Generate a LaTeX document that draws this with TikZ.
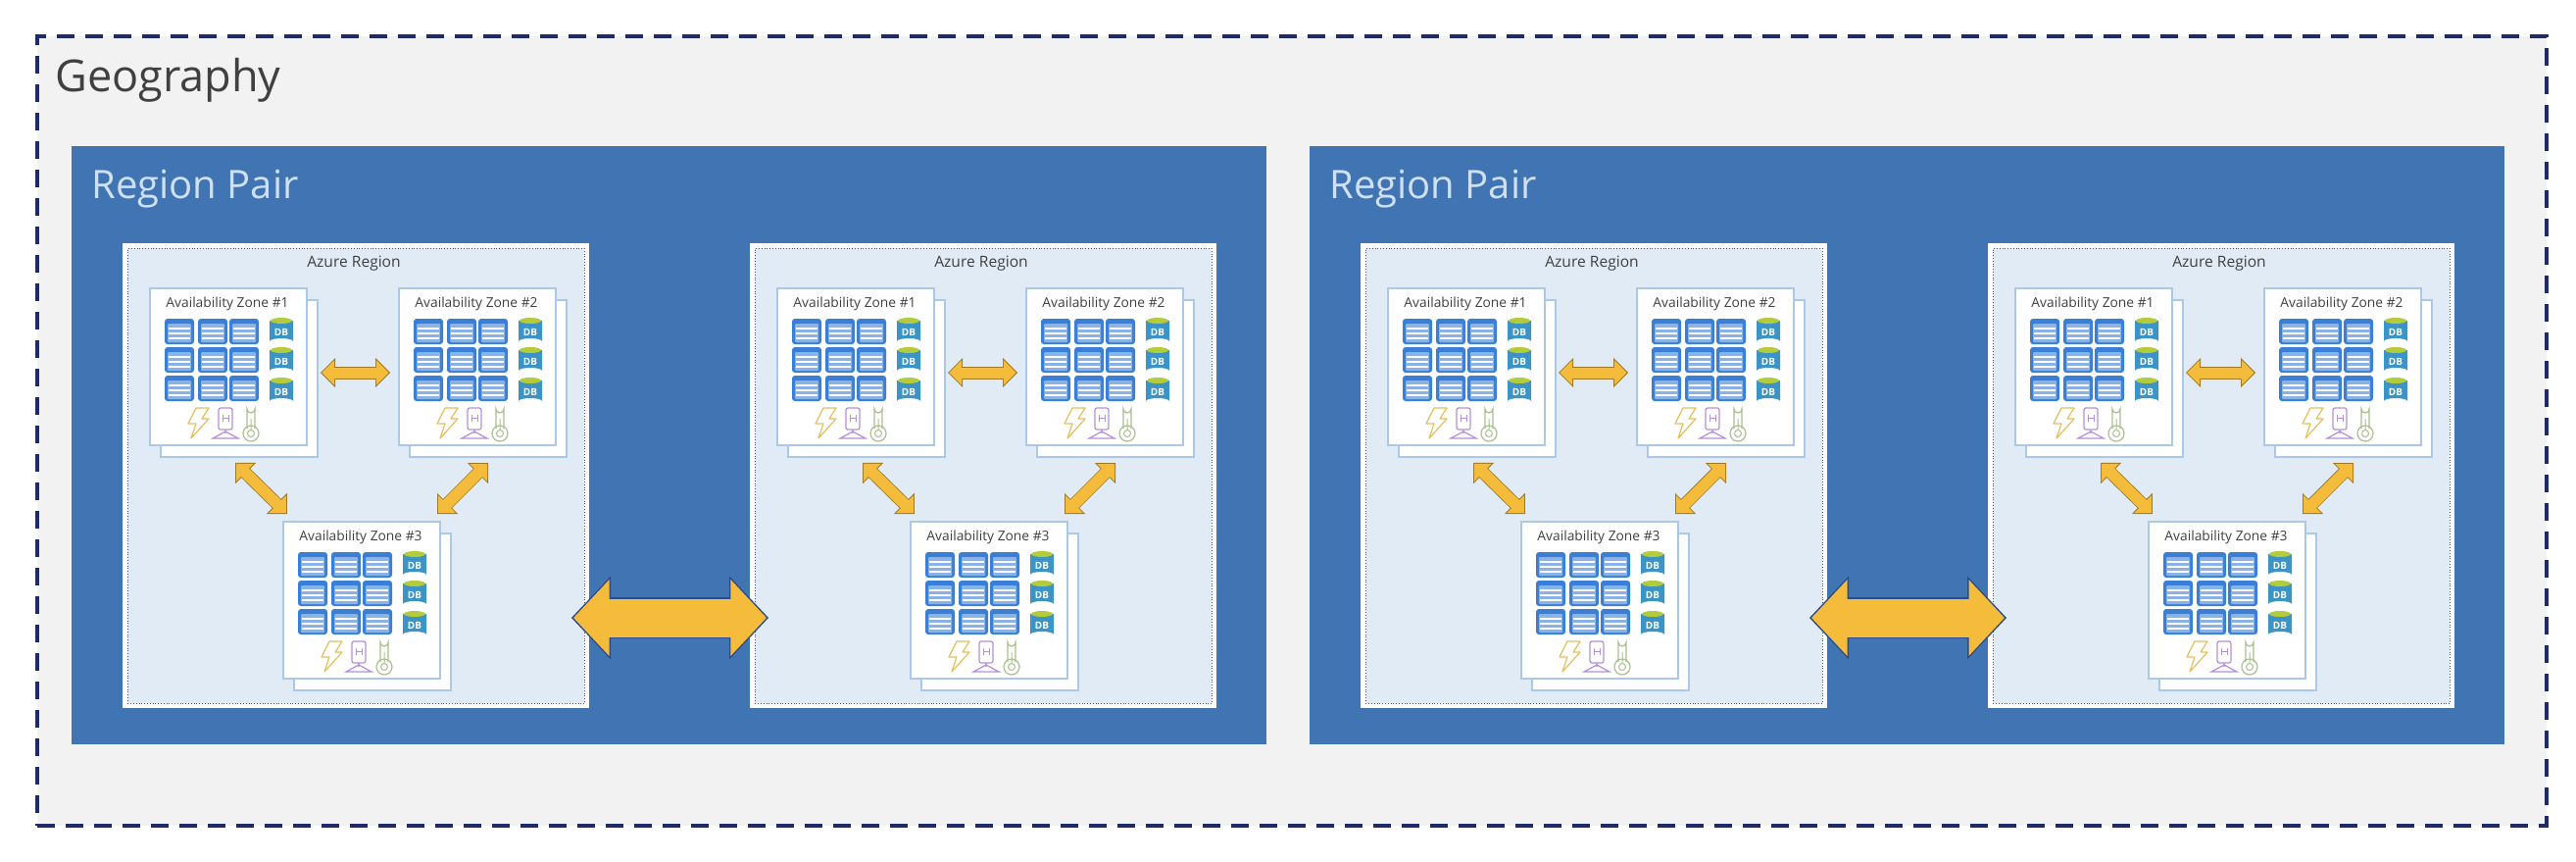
\documentclass[tikz,border=0pt]{standalone}
\usepackage{fontspec}
\setmainfont{Open Sans}
\usetikzlibrary{arrows.meta}

\definecolor{geofill}{HTML}{F2F2F2}
\definecolor{geodash}{HTML}{1F2A68}
\definecolor{pairblue}{HTML}{4174B2}
\definecolor{pairtext}{HTML}{CFE0F3}
\definecolor{regionfill}{HTML}{E1EBF6}
\definecolor{zoneline}{HTML}{A9C8EA}
\definecolor{srvblue}{HTML}{3A7FD6}
\definecolor{dbblue}{HTML}{3C93C6}
\definecolor{dbtop}{HTML}{B4CC3C}
\definecolor{arrowfill}{HTML}{F4BC3A}
\definecolor{boltline}{HTML}{E6BE5E}
\definecolor{mastline}{HTML}{B48FD8}
\definecolor{thermoline}{HTML}{A9C08F}

\tikzset{
  geobox/.style={draw=geodash, fill=geofill, line width=2pt, dash pattern=on 9pt off 5.5pt, inner sep=0pt, minimum width=1280pt, minimum height=402.5pt, anchor=north west},
  pairbox/.style={fill=pairblue, inner sep=0pt, minimum width=609.5pt, minimum height=305pt, anchor=north west},
  regionbox/.style={fill=white, inner sep=0pt, minimum width=238pt, minimum height=237pt, anchor=north west},
  regionin/.style={draw=black!60!blue!70, fill=regionfill, line width=.4pt, densely dotted, inner sep=0pt, minimum width=233pt, minimum height=232pt},
  zonefront/.style={draw=zoneline, fill=white, line width=.8pt, inner sep=0pt, minimum width=80pt, minimum height=80pt, anchor=north west},
  biglabel/.style={inner sep=0pt, anchor=base west},
  smalllabel/.style={inner sep=0pt, text=black!75, font=\fontsize{6.9}{8}\selectfont},
  bigtwoway/.style={draw=geodash!55!pairblue, line width=21pt, {Triangle[length=20pt,width=42.5pt,line width=0pt]}-{Triangle[length=20pt,width=42.5pt,line width=0pt]},
    postaction={draw=arrowfill, line width=19.5pt, shorten <=1.06pt, shorten >=1.06pt, {Triangle[length=18.2pt,width=38.9pt,line width=0pt,color=arrowfill]}-{Triangle[length=18.2pt,width=38.9pt,line width=0pt,color=arrowfill]}},
    postaction={draw=arrowfill, line width=19.5pt, shorten <=17pt, shorten >=17pt, -}},
  smalltwoway/.style={draw=black!35!arrowfill, line width=6.5pt, {Triangle[length=7.5pt,width=15pt,line width=0pt]}-{Triangle[length=7.5pt,width=15pt,line width=0pt]},
    postaction={draw=arrowfill, line width=5.5pt, shorten <=.71pt, shorten >=.71pt, {Triangle[length=6.3pt,width=12.6pt,line width=0pt,color=arrowfill]}-{Triangle[length=6.3pt,width=12.6pt,line width=0pt,color=arrowfill]}},
    postaction={draw=arrowfill, line width=5.5pt, shorten <=6pt, shorten >=6pt, -}},
  srvicon/.pic={
    \fill[srvblue, rounded corners=1.5pt] (0,0) rectangle (30,26);
    \fill[srvblue!60, rounded corners=.5pt] (3,5) rectangle (27,24);
    \draw[white, line width=.65pt] (4,10) -- (26,10) (4,15) -- (26,15) (4,20) -- (26,20);
  },
  dbicon/.pic={
    \fill[dbblue] (0,3) -- (0,24) arc[start angle=180, end angle=360, x radius=12, y radius=3] -- (24,3) -- cycle;
    \fill[dbtop] (12,3) ellipse[x radius=11, y radius=3];
    \node[inner sep=0pt, text=white, font=\bfseries\fontsize{5}{6}\selectfont] (t) at (12,15) {DB};
  },
  bolticon/.pic={
    \draw[boltline, line width=.6pt, line join=round] (8,0) -- (21,0) -- (14,11) -- (21,11) -- (3,31) -- (8,16) -- (0,16) -- cycle;
  },
  masticon/.pic={
    \draw[mastline, line width=.6pt, rounded corners=1pt] (6,0) rectangle (20,22);
    \draw[mastline, line width=.5pt] (10,7) -- (10,14) (16,7) -- (16,14) (10,10) -- (16,10);
    \draw[mastline, line width=.6pt] (13,22) -- (13,26) (13,24) -- (0,31) -- (26,31) -- cycle;
  },
  thermoicon/.pic={
    \draw[thermoline, line width=.6pt] (5,24) -- (5,4) arc[start angle=180, end angle=0, radius=4] -- (13,24);
    \draw[thermoline, line width=.6pt] (9,29) circle[radius=8];
    \draw[thermoline, line width=.5pt] (9,29) circle[radius=3.5] (9,14) -- (9,25);
  },
}

% one card of the stack, #2 #3 is the corner of the front sheet
\newcommand{\zonecard}[4]{
  \begin{scope}[shift={(#2,#3)}]
    \node[zonefront] (#1back) at (11,12) {};
    \node[zonefront] (#1) at (0,0) {};
    \node[smalllabel] (#1t) at (80,16.5) {Availability Zone \##4};
    \foreach \sx in {16,50,82} \foreach \sy in {32,61,90} \pic at (\sx,\sy) {srvicon};
    \foreach \dy in {31,61,92} \pic (#1db\dy) at (123,\dy) {dbicon};
    \pic at (40,123) {bolticon};
    \pic at (65,123) {masticon};
    \pic at (95,120) {thermoicon};
  \end{scope}
}

\newcommand{\azureregion}[2]{
  \begin{scope}[shift={(#2,248)}]
    \node[regionbox] (#1) at (0,0) {};
    \node[regionin] (#1in) at (#1.center) {};
    \node[smalllabel, font=\fontsize{7.8}{9}\selectfont] (#1t) at (236,21) {Azure Region};
    \zonecard{#1a}{27}{45}{1}
    \zonecard{#1b}{281}{45}{2}
    \zonecard{#1c}{163}{283}{3}
    \coordinate (#1h1) at (202,132);
    \coordinate (#1h2) at (273,132);
    \coordinate (#1l1) at (115,224);
    \coordinate (#1l2) at (168,276);
    \coordinate (#1r1) at (373,224);
    \coordinate (#1r2) at (321,276);
    \draw[smalltwoway] (#1h1) -- (#1h2);
    \draw[smalltwoway] (#1l1) -- (#1l2);
    \draw[smalltwoway] (#1r1) -- (#1r2);
  \end{scope}
}

\begin{document}
\begin{tikzpicture}[x=0.5pt, y=-0.5pt]
  \useasboundingbox (0,0) rectangle (2628,878);
  \node[geobox] (geo) at (36,35) {};
  \node[biglabel, text=black!75, font=\fontsize{22.5}{27}\selectfont] (geot) at (56,93) {Geography};

  \foreach \p/\ox in {1/0, 2/1263} {
    \begin{scope}[shift={(\ox,0)}]
      \node[pairbox] (pair\p) at (73,149) {};
      \node[biglabel, text=pairtext, font=\fontsize{20}{24}\selectfont] (pair\p t) at (93,202) {Region Pair};
      \azureregion{one\p}{125}
      \azureregion{two\p}{765}
      \coordinate (west\p) at (583,630);
      \coordinate (east\p) at (784,630);
      \draw[bigtwoway] (west\p) -- (east\p);
    \end{scope}
  }
\end{tikzpicture}
\end{document}
